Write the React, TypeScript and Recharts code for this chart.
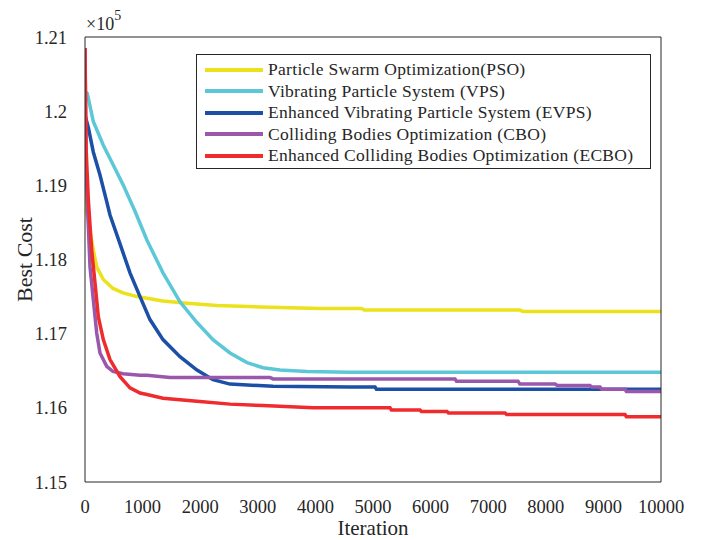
import React from 'react';
import { LineChart, Line, XAxis, YAxis, Legend, Label } from 'recharts';

// iteration ticks and cost ticks (cost in units of 1e5)
const xTicks = [0, 1000, 2000, 3000, 4000, 5000, 6000, 7000, 8000, 9000, 10000];
const yTicks = [1.15, 1.16, 1.17, 1.18, 1.19, 1.2, 1.21];

const seriesNames = [
  'Particle Swarm Optimization(PSO)',
  'Vibrating Particle System (VPS)',
  'Enhanced Vibrating Particle System (EVPS)',
  'Colliding Bodies Optimization (CBO)',
  'Enhanced Colliding Bodies Optimization (ECBO)',
];

// Particle Swarm Optimization
const psoIter = [0, 15, 30, 144, 203, 318, 486, 660, 903, 1354, 1771, 2292, 3038, 4080, 4800, 4850, 7550, 7600, 10000];
const psoCost = [1.1988, 1.1937, 1.1863, 1.1813, 1.179, 1.1773, 1.1761, 1.1755, 1.175, 1.1744, 1.1741, 1.1738, 1.1736, 1.1734, 1.1734, 1.1732, 1.1732, 1.173, 1.173];

// Vibrating Particle System
const vpsIter = [0, 40, 144, 318, 486, 660, 868, 1076, 1354, 1649, 1944, 2222, 2517, 2813, 3090, 3385, 3854, 4600, 10000];
const vpsCost = [1.2027, 1.2024, 1.1986, 1.1954, 1.1928, 1.1901, 1.1865, 1.1826, 1.1782, 1.1743, 1.1715, 1.1692, 1.1674, 1.1661, 1.1654, 1.1651, 1.1649, 1.1648, 1.1648];

// Enhanced Vibrating Particle System
const evpsIter = [0, 60, 144, 260, 377, 434, 608, 781, 955, 1128, 1354, 1649, 1944, 2222, 2517, 3264, 4600, 5035, 5060, 10000];
const evpsCost = [1.1995, 1.1977, 1.1945, 1.1914, 1.1878, 1.186, 1.1821, 1.1782, 1.175, 1.1719, 1.1692, 1.1669, 1.1651, 1.1638, 1.1632, 1.1629, 1.1628, 1.1628, 1.1625, 1.1625];

// Colliding Bodies Optimization
const cboIter = [0, 17, 87, 144, 203, 260, 377, 486, 660, 955, 1076, 1476, 3212, 3264, 6424, 6450, 7517, 7550, 8160, 8200, 8767, 8800, 8941, 8970, 9375, 9400, 10000];
const cboCost = [1.2085, 1.1921, 1.179, 1.1746, 1.1701, 1.1674, 1.1656, 1.1649, 1.1646, 1.1644, 1.1644, 1.1641, 1.1641, 1.1639, 1.1639, 1.1636, 1.1636, 1.1632, 1.1632, 1.163, 1.163, 1.1628, 1.1628, 1.1625, 1.1625, 1.1622, 1.1622];

// Enhanced Colliding Bodies Optimization
const ecboIter = [0, 20, 58, 116, 174, 231, 318, 434, 608, 781, 955, 1076, 1354, 1944, 2517, 3090, 3958, 5295, 5320, 5816, 5840, 6285, 6310, 7292, 7320, 9375, 9400, 10000];
const ecboCost = [1.2085, 1.1948, 1.188, 1.1813, 1.1768, 1.1723, 1.1692, 1.1665, 1.1642, 1.1627, 1.162, 1.1618, 1.1613, 1.1609, 1.1605, 1.1603, 1.16, 1.16, 1.1597, 1.1597, 1.1595, 1.1595, 1.1593, 1.1593, 1.1591, 1.1591, 1.1588, 1.1588];

const zip = (it: number[], cost: number[]) => it.map((v, i) => ({ it: v, cost: cost[i] }));

const FONT = '"Liberation Serif", "Times New Roman", serif';
const INK = '#262626';

const renderLegend = (props: any) => {
  // keep plot order, recharts sorts by name otherwise
  const items = [...(props.payload || [])].sort(
    (a: any, b: any) => seriesNames.indexOf(a.value) - seriesNames.indexOf(b.value)
  );
  return (
    <div
      style={{
        width: 455,
        height: 115,
        boxSizing: 'border-box',
        border: `1px solid ${INK}`,
        background: '#fff',
        padding: '4px 0 0 8px',
        fontFamily: FONT,
        fontSize: 17.5,
        letterSpacing: 0.3,
        color: INK,
      }}
    >
      {items.map((entry: any) => (
        <div key={entry.value} style={{ display: 'flex', alignItems: 'center', height: 21.5 }}>
          <span style={{ display: 'inline-block', width: 58, height: 4, background: entry.color, marginRight: 5 }} />
          <span style={{ whiteSpace: 'nowrap' }}>{entry.value}</span>
        </div>
      ))}
    </div>
  );
};

const fmtY = (v: number) => Number(v.toFixed(2)).toString();

export default function App() {
  const tickStyle = { fill: INK, fontSize: 18.5, fontFamily: FONT };
  return (
    <div style={{ position: 'absolute', left: 0, top: 0, width: 704, height: 540, background: '#fff' }}>
      <LineChart width={704} height={540} margin={{ top: 37, right: 43, bottom: 0, left: 0 }}>
        <XAxis
          dataKey="it"
          type="number"
          domain={[0, 10000]}
          ticks={xTicks}
          allowDataOverflow
          height={58}
          tickLine={false}
          tickMargin={12}
          axisLine={{ stroke: INK }}
          tick={tickStyle}
        >
          <Label value="Iteration" position="insideBottom" offset={5} style={{ fill: INK, fontSize: 21, fontFamily: FONT }} />
        </XAxis>
        <YAxis
          type="number"
          domain={[1.15, 1.21]}
          ticks={yTicks}
          allowDataOverflow
          width={85}
          tickLine={false}
          tickMargin={12}
          axisLine={{ stroke: INK }}
          tick={tickStyle}
          tickFormatter={fmtY}
        >
          <Label
            value="Best Cost"
            angle={-90}
            position="insideLeft"
            offset={24}
            style={{ fill: INK, fontSize: 22, fontFamily: FONT, textAnchor: 'middle' }}
          />
        </YAxis>
        {/* inward tick marks and the box, matlab style */}
        <XAxis xAxisId="bIn" type="number" domain={[0, 10000]} ticks={xTicks} allowDataOverflow orientation="bottom" mirror height={1} axisLine={false} tick={false} tickSize={5} tickLine={{ stroke: INK }} />
        <XAxis xAxisId="top" type="number" domain={[0, 10000]} ticks={xTicks} allowDataOverflow orientation="top" mirror height={1} axisLine={{ stroke: INK }} tick={false} tickSize={5} tickLine={{ stroke: INK }} />
        <YAxis yAxisId="lIn" type="number" domain={[1.15, 1.21]} ticks={yTicks} allowDataOverflow orientation="left" mirror width={1} axisLine={false} tick={false} tickSize={5} tickLine={{ stroke: INK }} />
        <YAxis yAxisId="right" type="number" domain={[1.15, 1.21]} ticks={yTicks} allowDataOverflow orientation="right" mirror width={1} axisLine={{ stroke: INK }} tick={false} tickSize={5} tickLine={{ stroke: INK }} />

        <Line data={zip(psoIter, psoCost)} dataKey="cost" name={seriesNames[0]} stroke="#EBE21C" strokeWidth={3.5} dot={false} isAnimationActive={false} />
        <Line data={zip(vpsIter, vpsCost)} dataKey="cost" name={seriesNames[1]} stroke="#5CC8D7" strokeWidth={3.5} dot={false} isAnimationActive={false} />
        <Line data={zip(evpsIter, evpsCost)} dataKey="cost" name={seriesNames[2]} stroke="#1C4FA6" strokeWidth={3.5} dot={false} isAnimationActive={false} />
        <Line data={zip(cboIter, cboCost)} dataKey="cost" name={seriesNames[3]} stroke="#9A58AC" strokeWidth={3.5} dot={false} isAnimationActive={false} />
        <Line data={zip(ecboIter, ecboCost)} dataKey="cost" name={seriesNames[4]} stroke="#EF2B2D" strokeWidth={3.5} dot={false} isAnimationActive={false} />

        <Legend
          layout="vertical"
          align="center"
          verticalAlign="middle"
          content={renderLegend}
          wrapperStyle={{ position: 'absolute', left: 196, top: 54, width: 455, height: 115 }}
        />
      </LineChart>
      <svg width={140} height={36} style={{ position: 'absolute', left: 0, top: 0 }}>
        <text x={86} y={30} fill={INK} fontFamily={FONT} fontSize={18}>
          ×10
          <tspan dy={-10} fontSize={14}>5</tspan>
        </text>
      </svg>
    </div>
  );
}
